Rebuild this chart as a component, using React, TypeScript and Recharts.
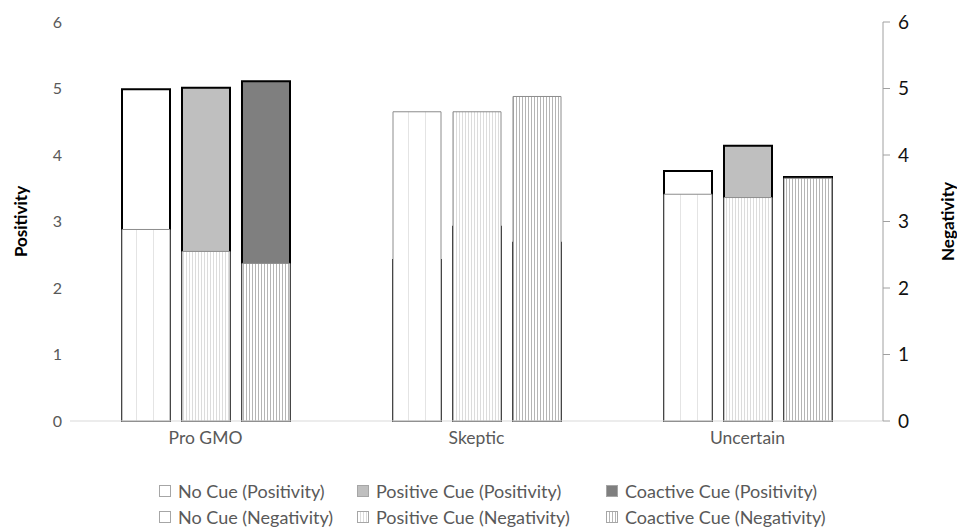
import React from 'react';
import { BarChart, Bar, XAxis, YAxis, Legend } from 'recharts';

const categories = ['Pro GMO', 'Skeptic', 'Uncertain'];
const noCuePositivity = [4.99, 2.42, 3.76];
const positiveCuePositivity = [5.01, 2.92, 4.14];
const coactiveCuePositivity = [5.11, 2.68, 3.67];
const noCueNegativity = [2.88, 4.65, 3.41];
const positiveCueNegativity = [2.55, 4.65, 3.36];
const coactiveCueNegativity = [2.37, 4.88, 3.65];
const yTicks = [0, 1, 2, 3, 4, 5, 6];
const legendOrder = ['noPos', 'posPos', 'coPos', 'noNeg', 'posNeg', 'coNeg'];

const data = categories.map((cat, i) => ({
  cat,
  noPos: noCuePositivity[i],
  posPos: positiveCuePositivity[i],
  coPos: coactiveCuePositivity[i],
  noNeg: noCueNegativity[i],
  posNeg: positiveCueNegativity[i],
  coNeg: coactiveCueNegativity[i],
}));

const FONT = 'Lato, "Noto Sans", sans-serif';

const AxisTitle = (props: any) => {
  const { viewBox, text, dx } = props;
  if (!viewBox) return null;
  const x = viewBox.x + dx;
  const y = viewBox.y + viewBox.height / 2;
  return (
    <text
      x={x}
      y={y}
      transform={`rotate(-90 ${x} ${y})`}
      textAnchor="middle"
      dominantBaseline="central"
      fontFamily={FONT}
      fontWeight="bold"
      fontSize={17}
      fill="#000"
    >
      {text}
    </text>
  );
};

const LegendContent = (props: any) => {
  const { payload } = props;
  const cols = [198, 249, 222];
  const items = [...(payload || [])].sort(
    (a: any, b: any) => legendOrder.indexOf(a.dataKey) - legendOrder.indexOf(b.dataKey)
  );
  return (
    <div
      style={{
        display: 'grid',
        gridTemplateColumns: cols.map((c) => `${c}px`).join(' '),
        gridAutoRows: '26px',
        fontFamily: FONT,
        fontSize: 18,
        color: '#595959',
      }}
    >
      {items.map((entry: any, i: number) => (
        <div key={i} style={{ display: 'flex', alignItems: 'center', whiteSpace: 'nowrap' }}>
          <svg width={12} height={12} style={{ marginRight: 7, flex: 'none' }}>
            <rect x={0.5} y={0.5} width={11} height={11} fill={entry.color} stroke="#a6a6a6" strokeWidth={1} />
          </svg>
          <span>{entry.value}</span>
        </div>
      ))}
    </div>
  );
};

export default function App() {
  return (
    <div style={{ width: 957, height: 530, background: '#fff', position: 'relative' }}>
      <style>{'body{margin:0;}'}</style>
      <BarChart
        width={957}
        height={530}
        data={data}
        margin={{ top: 22, right: 0, bottom: 79, left: 0 }}
        barSize={48}
        barGap={12}
      >
        <defs>
          <pattern id="patNo" patternUnits="userSpaceOnUse" width={17} height={10}>
            <rect width={17} height={10} fill="#ffffff" />
            <line x1={0.5} y1={0} x2={0.5} y2={10} stroke="#e4e4e4" strokeWidth={1} />
          </pattern>
          <pattern id="patPos" patternUnits="userSpaceOnUse" width={3} height={10}>
            <rect width={3} height={10} fill="#ffffff" />
            <line x1={0.5} y1={0} x2={0.5} y2={10} stroke="#dcdcdc" strokeWidth={1} />
          </pattern>
          <pattern id="patCo" patternUnits="userSpaceOnUse" width={3} height={10}>
            <rect width={3} height={10} fill="#ffffff" />
            <line x1={0.5} y1={0} x2={0.5} y2={10} stroke="#b5b5b5" strokeWidth={1} />
          </pattern>
        </defs>
        <XAxis
          xAxisId="pos"
          dataKey="cat"
          height={30}
          axisLine={{ stroke: '#d9d9d9', strokeWidth: 1 }}
          tickLine={false}
          tick={{ fill: '#595959', fontSize: 17.5, fontFamily: FONT }}
          tickMargin={5}
        />
        <XAxis xAxisId="neg" dataKey="cat" hide height={0} />
        <YAxis
          yAxisId="left"
          domain={[0, 6]}
          ticks={yTicks}
          width={70}
          axisLine={false}
          tickLine={false}
          tick={{ fill: '#595959', fontSize: 16, fontFamily: FONT }}
          label={<AxisTitle text="Positivity" dx={20} />}
        />
        <YAxis
          yAxisId="right"
          orientation="right"
          domain={[0, 6]}
          ticks={yTicks}
          width={74}
          axisLine={{ stroke: '#a0a0a0', strokeWidth: 1 }}
          tickLine={{ stroke: '#a0a0a0', strokeWidth: 1 }}
          tickSize={7}
          tickMargin={8}
          tick={{ fill: '#111', fontSize: 19, fontFamily: FONT }}
          label={<AxisTitle text="Negativity" dx={64} />}
        />
        <Legend
          layout="horizontal"
          verticalAlign="middle"
          align="center"
          content={<LegendContent />}
          wrapperStyle={{ top: 478, left: 159, width: 680, height: 52 }}
        />
        <Bar xAxisId="pos" yAxisId="left" dataKey="noPos" name="No Cue (Positivity)" fill="#ffffff" stroke="#000" strokeWidth={2} isAnimationActive={false} />
        <Bar xAxisId="pos" yAxisId="left" dataKey="posPos" name="Positive Cue (Positivity)" fill="#bfbfbf" stroke="#000" strokeWidth={2} isAnimationActive={false} />
        <Bar xAxisId="pos" yAxisId="left" dataKey="coPos" name="Coactive Cue (Positivity)" fill="#7f7f7f" stroke="#000" strokeWidth={2} isAnimationActive={false} />
        <Bar xAxisId="neg" yAxisId="right" dataKey="noNeg" name="No Cue (Negativity)" fill="url(#patNo)" stroke="#8c8c8c" strokeWidth={1} isAnimationActive={false} />
        <Bar xAxisId="neg" yAxisId="right" dataKey="posNeg" name="Positive Cue (Negativity)" fill="url(#patPos)" stroke="#8c8c8c" strokeWidth={1} isAnimationActive={false} />
        <Bar xAxisId="neg" yAxisId="right" dataKey="coNeg" name="Coactive Cue (Negativity)" fill="url(#patCo)" stroke="#8c8c8c" strokeWidth={1} isAnimationActive={false} />
      </BarChart>
    </div>
  );
}
